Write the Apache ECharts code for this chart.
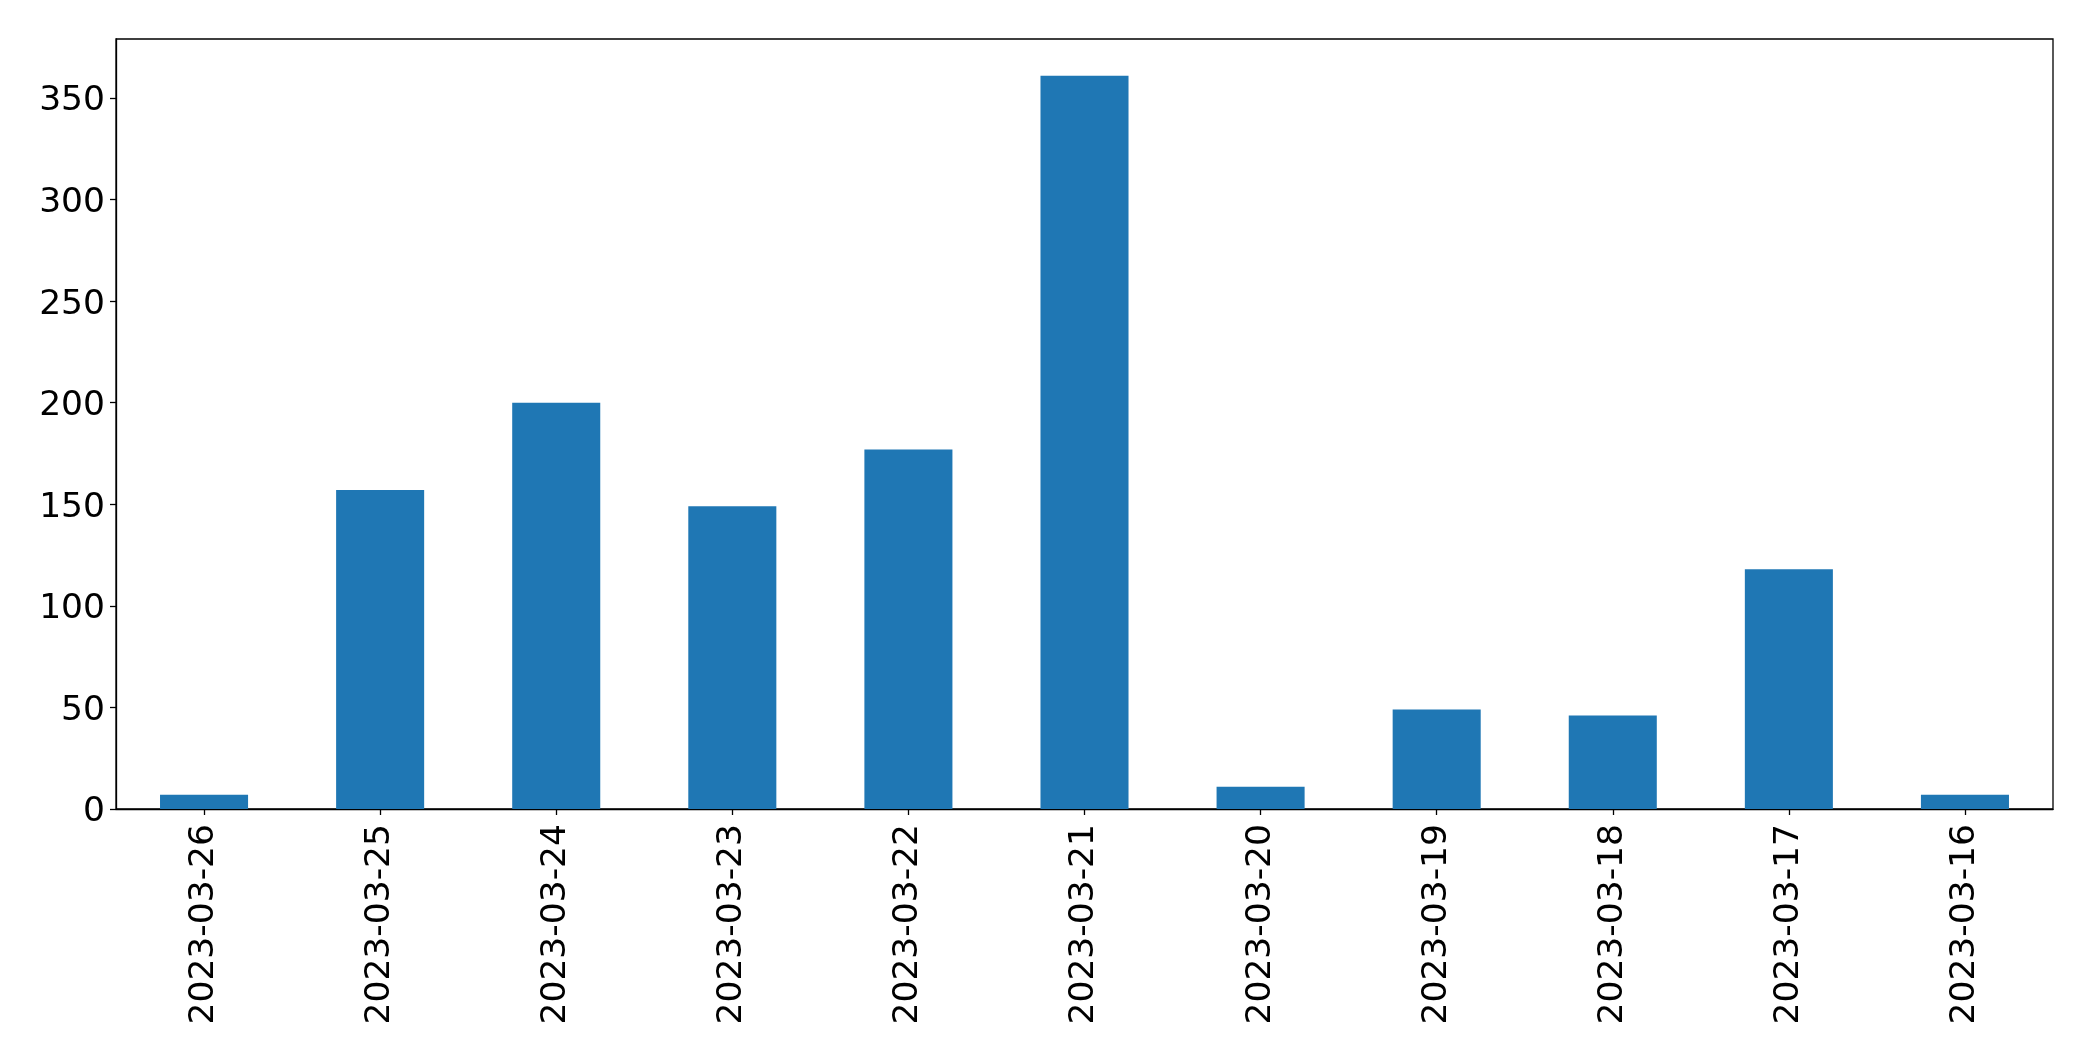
<!DOCTYPE html>
<html>
<head>
<meta charset="utf-8">
<script src="https://cdn.jsdelivr.net/npm/echarts@6/dist/echarts.min.js"></script>
<style>
html,body{margin:0;padding:0;background:#fff;}
#chart{width:2093px;height:1061px;}
</style>
</head>
<body>
<div id="chart"></div>
<script>
const categories = ['2023-03-26','2023-03-25','2023-03-24','2023-03-23','2023-03-22','2023-03-21','2023-03-20','2023-03-19','2023-03-18','2023-03-17','2023-03-16'];
const values = [7, 157, 200, 149, 177, 361, 11, 49, 46, 118, 7];
const yTicks = [0, 50, 100, 150, 200, 250, 300, 350];

const yMax = Math.max(...values) * 1.05;
const chart = echarts.init(document.getElementById('chart'), null, {renderer: 'canvas'});
chart.setOption({
  animation: false,
  backgroundColor: '#ffffff',
  grid: {left: 116, right: 40, top: 39, bottom: 252, show: true, borderColor: '#000', borderWidth: 1.3, backgroundColor: 'transparent'},
  xAxis: {
    type: 'category',
    data: categories,
    boundaryGap: true,
    axisLine: {show: true, lineStyle: {color: '#000', width: 1.3}},
    axisTick: {show: true, alignWithLabel: true, length: 6, lineStyle: {color: '#000', width: 1.3}},
    axisLabel: {rotate: 90, margin: 15, fontFamily: 'DejaVu Sans', fontSize: 34.5, color: '#000', interval: 0},
    splitLine: {show: false}
  },
  yAxis: {
    type: 'value',
    min: 0,
    max: yMax,
    axisLine: {show: true, lineStyle: {color: '#000', width: 1.3}},
    axisTick: {show: true, length: 6, customValues: yTicks, lineStyle: {color: '#000', width: 1.3}},
    axisLabel: {customValues: yTicks, margin: 11, verticalAlign: 'top', lineHeight: 7, fontFamily: 'DejaVu Sans', fontSize: 34.5, color: '#000'},
    splitLine: {show: false}
  },
  series: [{
    type: 'bar',
    data: values,
    barWidth: '50%',
    itemStyle: {color: '#1f77b4'}
  }]
});
</script>
</body>
</html>
